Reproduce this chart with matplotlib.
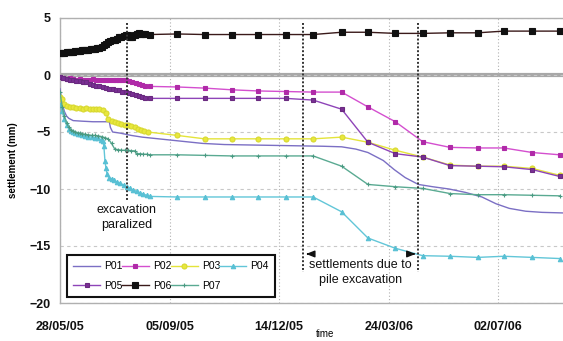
import matplotlib
matplotlib.use('Agg')
import matplotlib.pyplot as plt
import pandas as pd

plt.rcParams['font.family'] = ['Liberation Sans', 'DejaVu Sans']

START = pd.Timestamp('2005-05-28')

# days after 28/05/05 and settlement values (mm)
p01_days = [0, 2, 4, 6, 8, 12, 20, 30, 40, 45, 46, 48, 55, 65, 75, 90, 110, 130, 150, 180,
            210, 240, 257, 270, 281, 295, 305, 315, 327, 340, 355, 370, 385, 398, 410, 425, 440, 459]
p01_vals = [-1.2, -2.5, -3.2, -3.6, -3.8, -4.0, -4.05, -4.1, -4.1, -4.1, -4.6, -5.0, -5.1, -5.3, -5.45, -5.6, -5.8, -6.0, -6.1, -6.15,
            -6.2, -6.25, -6.3, -6.5, -6.8, -7.5, -8.3, -9.0, -9.6, -9.8, -10.0, -10.3, -10.7, -11.3, -11.7, -11.95, -12.05, -12.1]

p02_days = [0, 3, 6, 9, 12, 15, 18, 21, 24, 27, 30, 33, 36, 39, 42, 45, 48, 51, 54, 57, 60, 63, 66, 69, 72, 75, 78, 82,
            107, 132, 157, 181, 206, 231, 257, 281, 306, 331, 356, 381, 405, 431, 456]
p02_vals = [-0.2, -0.3, -0.35, -0.3, -0.35, -0.4, -0.35, -0.4, -0.45, -0.4, -0.35, -0.4, -0.45, -0.4, -0.4, -0.45, -0.4, -0.4,
            -0.45, -0.4, -0.45, -0.5, -0.6, -0.7, -0.8, -0.9, -0.95, -1.0,
            -1.05, -1.15, -1.3, -1.4, -1.45, -1.5, -1.5, -2.8, -4.1, -5.85, -6.35, -6.4, -6.4, -6.8, -7.0]

p03_days = [0, 2, 4, 6, 9, 12, 15, 18, 21, 24, 27, 30, 33, 36, 39, 42, 44, 47, 50, 53, 56, 59, 62, 65, 68, 71, 74, 77, 80,
            107, 132, 157, 181, 206, 231, 257, 281, 306, 331, 356, 381, 405, 431, 456]
p03_vals = [-1.9, -2.1, -2.5, -2.7, -2.8, -2.85, -2.9, -2.9, -2.95, -2.9, -3.0, -3.0, -2.95, -3.0, -3.1, -3.3, -3.9, -4.0,
            -4.1, -4.2, -4.3, -4.35, -4.4, -4.5, -4.6, -4.7, -4.8, -4.9, -5.0,
            -5.3, -5.6, -5.6, -5.6, -5.6, -5.6, -5.45, -5.9, -6.6, -7.2, -7.9, -8.0, -8.0, -8.2, -8.8]

p04_days = [0, 2, 4, 6, 8, 10, 12, 14, 16, 18, 20, 23, 26, 29, 32, 35, 37, 39, 40, 41, 42, 43, 45, 47, 49, 52, 55, 58,
            61, 64, 67, 70, 73, 76, 79, 82,
            107, 132, 157, 181, 206, 231, 257, 281, 306, 331, 356, 381, 405, 431, 456]
p04_vals = [-2.6, -3.2, -3.9, -4.4, -4.7, -4.9, -5.0, -5.1, -5.2, -5.2, -5.3, -5.35, -5.4, -5.45, -5.5, -5.55, -5.7, -5.8,
            -6.2, -7.5, -8.2, -8.7, -9.0, -9.1, -9.2, -9.4, -9.5, -9.65,
            -9.8, -9.95, -10.1, -10.2, -10.35, -10.45, -10.55, -10.65,
            -10.7, -10.7, -10.7, -10.7, -10.7, -10.7, -12.0, -14.3, -15.2, -15.85, -15.9, -16.0, -15.9, -16.0, -16.1]

p05_days = [0, 3, 6, 9, 12, 15, 18, 21, 24, 27, 30, 33, 36, 39, 42, 45, 48, 51, 54, 57, 60, 63, 66, 69, 72, 75, 78, 82,
            107, 132, 157, 181, 206, 231, 257, 281, 306, 331, 356, 381, 405, 431, 456]
p05_vals = [-0.2, -0.3, -0.35, -0.4, -0.45, -0.5, -0.55, -0.6, -0.65, -0.75, -0.85, -0.95, -1.0, -1.05, -1.1, -1.2, -1.25,
            -1.3, -1.35, -1.45, -1.5, -1.55, -1.65, -1.75, -1.85, -1.95, -2.0, -2.05,
            -2.05, -2.05, -2.05, -2.05, -2.05, -2.2, -3.0, -5.9, -6.9, -7.2, -7.95, -8.0, -8.05, -8.3, -8.9]

p06_days = [0, 2, 4, 6, 8, 10, 12, 14, 16, 18, 20, 22, 24, 26, 28, 30, 32, 34, 36, 38, 40, 42, 44, 46, 48, 50, 52, 54,
            56, 58, 60, 62, 64, 66, 68, 70, 72, 74, 76, 78, 82,
            107, 132, 157, 181, 206, 231, 257, 281, 306, 331, 356, 381, 405, 431, 456]
p06_vals = [1.9, 1.95, 1.95, 2.0, 2.0, 2.05, 2.05, 2.1, 2.1, 2.1, 2.15, 2.15, 2.2, 2.2, 2.25, 2.25, 2.3, 2.35, 2.4, 2.5,
            2.6, 2.75, 2.9, 3.0, 3.05, 3.1, 3.2, 3.3, 3.35, 3.45, 3.5, 3.55, 3.35, 3.3, 3.5, 3.6, 3.65, 3.6, 3.6, 3.6, 3.55,
            3.6, 3.55, 3.55, 3.55, 3.55, 3.55, 3.75, 3.75, 3.65, 3.65, 3.7, 3.7, 3.85, 3.85, 3.85]

p07_days = [0, 2, 4, 6, 8, 10, 12, 14, 16, 18, 20, 23, 26, 29, 32, 35, 38, 41, 44, 47, 50, 53, 56, 59, 62, 65, 68, 70,
            73, 76, 79, 82,
            107, 132, 157, 181, 206, 231, 257, 281, 306, 331, 356, 381, 405, 431, 456]
p07_vals = [-1.5, -2.8, -3.6, -4.2, -4.6, -4.8, -4.9, -5.0, -5.05, -5.1, -5.15, -5.2, -5.25, -5.3, -5.3, -5.35, -5.4, -5.5,
            -5.6, -6.0, -6.5, -6.55, -6.6, -6.6, -6.6, -6.65, -6.65, -6.9, -6.9, -6.95, -6.95, -7.0,
            -7.0, -7.05, -7.1, -7.1, -7.1, -7.1, -8.0, -9.6, -9.8, -9.95, -10.4, -10.5, -10.5, -10.55, -10.6]

series_names = ['P01', 'P02', 'P03', 'P04', 'P05', 'P06', 'P07']
series_days = [p01_days, p02_days, p03_days, p04_days, p05_days, p06_days, p07_days]
series_vals = [p01_vals, p02_vals, p03_vals, p04_vals, p05_vals, p06_vals, p07_vals]

tick_days = [0, 100, 200, 300, 400]
tick_labels = ['28/05/05', '05/09/05', '14/12/05', '24/03/06', '02/07/06']
y_ticks = [-20, -15, -10, -5, 0, 5]

styles = {
    'P01': dict(color='#7b6fc4', marker=None, ms=0, mfc='#7b6fc4', mec='#7b6fc4'),
    'P02': dict(color='#d44fcf', marker='s', ms=3.2, mfc='#b02aa8', mec='#b02aa8'),
    'P03': dict(color='#e4e43a', marker='o', ms=3.6, mfc='#e8e83c', mec='#d8d830'),
    'P04': dict(color='#62c6d8', marker='^', ms=3.2, mfc='#58c0d4', mec='#58c0d4'),
    'P05': dict(color='#8e44b8', marker='s', ms=3.2, mfc='#7a2f95', mec='#6a2a80'),
    'P06': dict(color='#3a1a1a', marker='s', ms=4.0, mfc='#111111', mec='#111111'),
    'P07': dict(color='#5aaa92', marker='+', ms=3.2, mfc='#5aaa92', mec='#4a9a82'),
}


def to_dates(days):
    return START + pd.to_timedelta(pd.Series(days, dtype=float), unit='D')


fig = plt.figure(figsize=(5.63, 3.41), dpi=100)
ax = fig.add_axes([60 / 563, 1 - 303 / 341, 503 / 563, 285 / 341])

handles = {}
for name, d, v in zip(series_names, series_days, series_vals):
    st = styles[name]
    h, = ax.plot(to_dates(d), v, color=st['color'], lw=1.0, marker=st['marker'], ms=st['ms'],
                 mfc=st['mfc'], mec=st['mec'], mew=0.8, label=name, zorder=3)
    handles[name] = h

ax.set_xlim(to_dates([0])[0], to_dates([459])[0])
ax.set_ylim(-20, 5)
ax.set_xticks(to_dates(tick_days))
ax.set_xticklabels(tick_labels)
ax.set_yticks(y_ticks)

ax.tick_params(axis='both', length=0, labelsize=9, colors='#111111')
ax.tick_params(axis='x', pad=13)
ax.tick_params(axis='y', pad=7)
for lab in ax.get_xticklabels() + ax.get_yticklabels():
    lab.set_fontweight('bold')

ax.grid(axis='x', linestyle=(0, (1, 2)), color='#b0b0b0', lw=0.8, zorder=0)
ax.grid(axis='y', linestyle=(0, (3, 3)), color='#c8c8c8', lw=0.8, zorder=0)
ax.axhline(0, color='#a8a8a8', lw=3, zorder=1)

for s in ['left', 'bottom', 'top']:
    ax.spines[s].set_color('#b0b0b0')
    ax.spines[s].set_linewidth(1.0)
ax.spines['right'].set_visible(False)

ax.set_ylabel('settlement (mm)', fontsize=7, fontweight='bold')
ax.yaxis.set_label_coords(-42 / 503, 0.5)
ax.set_xlabel('time', fontsize=7)
ax.xaxis.set_label_coords(265 / 503, -26 / 285)

# annotation lines
line_kw = dict(color='#333333', lw=1.4, linestyle=(0, (1, 1)), zorder=4)
for dday, ybot in [(61, -11.0), (222, -17.3), (327, -17.3)]:
    xd = to_dates([dday])[0]
    ax.plot([xd, xd], [4.6, ybot], **line_kw)

ax.text(to_dates([61])[0], -12.5, 'excavation\nparalized', ha='center', va='center',
        fontsize=9, linespacing=1.3, color='#111111', zorder=6)
ax.text(to_dates([274])[0], -17.3, 'settlements due to\npile excavation', ha='center', va='center',
        fontsize=9, linespacing=1.3, color='#111111', zorder=6)

ax.annotate('', xy=(to_dates([222])[0], -15.7), xytext=(to_dates([229])[0], -15.7),
            arrowprops=dict(arrowstyle='-|>,head_length=0.5,head_width=0.2', color='#111111', lw=1))
ax.annotate('', xy=(to_dates([327])[0], -15.7), xytext=(to_dates([320])[0], -15.7),
            arrowprops=dict(arrowstyle='-|>,head_length=0.5,head_width=0.2', color='#111111', lw=1))

order = ['P01', 'P05', 'P02', 'P06', 'P03', 'P07', 'P04']
leg = ax.legend([handles[n] for n in order], order, loc='lower left',
                bbox_to_anchor=(7 / 503, 6 / 285, 208 / 503, 47 / 285), mode='expand',
                ncol=4, fontsize=7.5, frameon=True, fancybox=False, borderaxespad=0,
                handlelength=2.6, handletextpad=0.4, columnspacing=0.8, borderpad=0.6,
                labelspacing=0.9, markerscale=1.0)
leg.get_frame().set_edgecolor('#111111')
leg.get_frame().set_linewidth(1.5)
leg.get_frame().set_facecolor('white')
leg.get_frame().set_alpha(1)
leg.set_zorder(7)

fig.savefig('out.png', dpi=100)
